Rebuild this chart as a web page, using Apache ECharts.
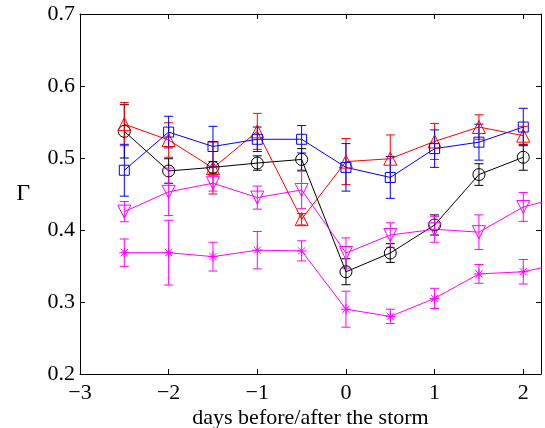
<!DOCTYPE html>
<html>
<head>
<meta charset="utf-8">
<script src="https://cdn.jsdelivr.net/npm/echarts@6/dist/echarts.min.js"></script>
<style>
html,body{margin:0;padding:0;background:#fff;}
#chart{width:545px;height:428px;}
</style>
</head>
<body>
<div id="chart"></div>
<script>
// x positions (days before/after the storm)
const days = [-2.5, -2, -1.5, -1, -0.5, 0, 0.5, 1, 1.5, 2];
const daysExt = [-2.5, -2, -1.5, -1, -0.5, 0, 0.5, 1, 1.5, 2, 2.5];

// black circles
const blackVals = [0.537, 0.482, 0.487, 0.493, 0.498, 0.342, 0.368, 0.407, 0.477, 0.501];
const blackErr  = [0.037, 0.017, 0.008, 0.010, 0.015, 0.018, 0.013, 0.014, 0.015, 0.018];
// red up-triangles
const redVals = [0.547, 0.525, 0.486, 0.537, 0.415, 0.495, 0.499, 0.523, 0.543, 0.531];
const redErr  = [0.030, 0.024, 0.036, 0.025, 0.008, 0.032, 0.033, 0.025, 0.017, 0.013];
// blue squares
const blueVals = [0.483, 0.536, 0.516, 0.526, 0.526, 0.487, 0.473, 0.513, 0.522, 0.543];
const blueErr  = [0.036, 0.022, 0.028, 0.017, 0.019, 0.033, 0.029, 0.026, 0.025, 0.026];
// magenta down-triangles (last value lies beyond the right edge)
const magTriVals = [0.4255, 0.453, 0.465, 0.445, 0.4556, 0.368, 0.393, 0.401, 0.397, 0.432, 0.448];
const magTriErr  = [0.014, 0.033, 0.011, 0.016, 0.026, 0.021, 0.017, 0.018, 0.024, 0.020];
// magenta asterisks (last value lies beyond the right edge)
const magStarVals = [0.3685, 0.3685, 0.363, 0.372, 0.371, 0.290, 0.280, 0.305, 0.339, 0.342, 0.355];
const magStarErr  = [0.019, 0.045, 0.020, 0.026, 0.014, 0.025, 0.010, 0.014, 0.013, 0.017];

const xTicks = [-3, -2, -1, 0, 1, 2];
const yTicks = [0.2, 0.3, 0.4, 0.5, 0.6, 0.7];

const FONT = 'Liberation Serif';
const STAR = 'path://M0,-5L0,5M-5,0L5,0M-3.6,-3.6L3.6,3.6M-3.6,3.6L3.6,-3.6';

function lineSeries(xv, yv, color, symbol, size, rotate) {
  return {
    type: 'line',
    data: yv.map((v, i) => [xv[i], v]),
    symbol: symbol,
    symbolSize: size,
    symbolRotate: rotate || 0,
    showAllSymbol: true,
    clip: true,
    lineStyle: { color: color, width: 1 },
    itemStyle: { color: symbol === STAR ? color : 'rgba(0,0,0,0)', borderColor: color, borderWidth: 1 },
    emphasis: { disabled: true },
    z: 3
  };
}

function errSeries(xv, yv, ev, color) {
  return {
    type: 'custom',
    clip: true,
    data: ev.map((e, i) => [xv[i], yv[i] - e, yv[i] + e]),
    encode: { x: 0, y: [1, 2] },
    renderItem: function (params, api) {
      const x = api.value(0);
      const lo = api.coord([x, api.value(1)]);
      const hi = api.coord([x, api.value(2)]);
      const w = 4.5;
      const st = { stroke: color, lineWidth: 1 };
      return {
        type: 'group',
        children: [
          { type: 'line', shape: { x1: lo[0], y1: lo[1], x2: hi[0], y2: hi[1] }, style: st },
          { type: 'line', shape: { x1: lo[0] - w, y1: lo[1], x2: lo[0] + w, y2: lo[1] }, style: st },
          { type: 'line', shape: { x1: hi[0] - w, y1: hi[1], x2: hi[0] + w, y2: hi[1] }, style: st }
        ]
      };
    },
    silent: true,
    z: 2
  };
}

const fmtX = v => xTicks.indexOf(v) >= 0 ? String(v).replace('-', '\u2212') : '';
const fmtY = v => yTicks.some(t => Math.abs(t - v) < 1e-9) ? v.toFixed(1) : '';

const axisLine = { show: true, onZero: false, lineStyle: { color: '#000', width: 1 } };
const axisTick = { show: true, inside: true, length: 5, lineStyle: { color: '#000', width: 1 } };

const chart = echarts.init(document.getElementById('chart'), null, { renderer: 'canvas' });
chart.setOption({
  animation: false,
  backgroundColor: '#fff',
  textStyle: { fontFamily: FONT },
  grid: { left: 80, right: 4, top: 14, bottom: 54, containLabel: false, outerBoundsMode: 'none' },
  xAxis: [
    {
      type: 'value', min: -3, max: 2.2, interval: 1, position: 'bottom',
      axisLine: axisLine, axisTick: axisTick, splitLine: { show: false },
      axisLabel: { formatter: fmtX, color: '#000', fontFamily: FONT, fontSize: 22, margin: 8, showMaxLabel: false },
      name: 'days before/after the storm', nameLocation: 'middle', nameGap: 33, nameMoveOverlap: false,
      nameTextStyle: { color: '#000', fontFamily: FONT, fontSize: 22 }
    },
    {
      type: 'value', min: -3, max: 2.2, interval: 1, position: 'top',
      axisLine: axisLine, axisTick: axisTick, splitLine: { show: false },
      axisLabel: { show: false }
    }
  ],
  yAxis: [
    {
      type: 'value', min: 0.2, max: 0.7, interval: 0.1, position: 'left',
      axisLine: axisLine, axisTick: axisTick, splitLine: { show: false },
      axisLabel: { formatter: fmtY, color: '#000', fontFamily: FONT, fontSize: 22, margin: 5 },
      name: '\u0393', nameLocation: 'middle', nameRotate: 0, nameGap: 50, nameMoveOverlap: false,
      nameTextStyle: { color: '#000', fontFamily: FONT, fontSize: 24, padding: [8, 0, 0, 0] }
    },
    {
      type: 'value', min: 0.2, max: 0.7, interval: 0.1, position: 'right',
      axisLine: axisLine, axisTick: axisTick, splitLine: { show: false },
      axisLabel: { show: false }
    }
  ],
  series: [
    errSeries(days, blackVals, blackErr, '#000000'),
    lineSeries(days, blackVals, '#000000', 'circle', 12),
    errSeries(days, redVals, redErr, '#ff0000'),
    lineSeries(days, redVals, '#ff0000', 'triangle', 13),
    errSeries(days, blueVals, blueErr, '#0000ff'),
    lineSeries(days, blueVals, '#0000ff', 'rect', 10),
    errSeries(days, magTriVals, magTriErr, '#ff00ff'),
    lineSeries(daysExt, magTriVals, '#ff00ff', 'triangle', 13, 180),
    errSeries(days, magStarVals, magStarErr, '#ff00ff'),
    lineSeries(daysExt, magStarVals, '#ff00ff', STAR, 10)
  ]
});
</script>
</body>
</html>
